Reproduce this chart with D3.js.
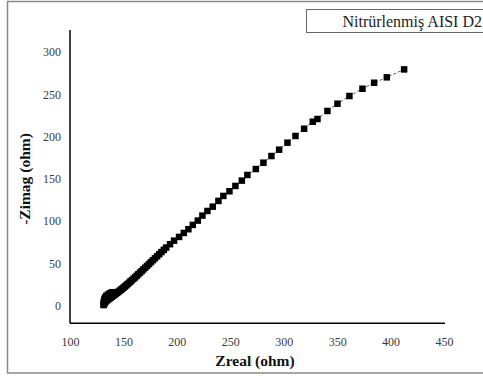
<!DOCTYPE html>
<html>
<head>
<meta charset="utf-8">
<script src="https://cdn.jsdelivr.net/npm/d3@7"></script>
<style>
  html, body { margin: 0; padding: 0; background: #fff; }
  svg { display: block; }
</style>
</head>
<body>
<svg id="chart" width="483" height="378"></svg>
<script>
// Nyquist plot: real vs. negative imaginary impedance (ohm)
const seriesName = "Nitrürlenmiş AISI D2";
const xTicks = [100, 150, 200, 250, 300, 350, 400, 450];
const yTicks = [0, 50, 100, 150, 200, 250, 300];

const zReal = [
  140.0, 138.8, 137.2, 135.5, 134.0, 132.8, 132.0, 131.6, 131.5,
  131.6, 131.8, 132.1, 132.5, 133.0, 133.6, 134.3, 135.1, 136.0, 137.0,
  138.0, 139.1, 140.3, 141.6, 142.8, 144.0, 145.2, 146.4, 147.6, 148.8,
  150.0, 151.3, 152.6, 153.9, 155.2, 156.6, 158.0, 159.4, 160.9, 162.4,
  163.9, 165.5, 167.1, 168.7, 170.4, 172.1, 173.9, 175.7, 177.6, 179.5,
  181.5, 183.5, 185.6, 187.8, 190.0, 193.6, 197.4, 202.1, 206.5, 210.8,
  214.9, 219.6, 223.9, 228.6, 233.6, 238.9, 243.5, 249.2, 254.8, 260.8,
  266.0, 273.9, 281.0, 288.5, 295.7, 303.5, 311.0, 319.1, 327.2, 331.6,
  340.9, 350.3, 361.5, 373.7, 384.6, 396.5, 412.7
];
const zImag = [
  15.8, 15.3, 14.3, 13.0, 11.5, 9.5, 7.0, 4.0, 0.6,
  1.3, 2.0, 2.8, 3.6, 4.4, 5.2, 6.0, 6.8, 7.6, 8.5,
  9.4, 10.4, 11.5, 12.7, 13.9, 15.0, 16.2, 17.4, 18.6, 19.8,
  21.1, 22.5, 23.9, 25.4, 26.9, 28.5, 30.1, 31.7, 33.4, 35.2,
  37.0, 38.9, 40.8, 42.8, 44.8, 46.9, 49.1, 51.3, 53.6, 55.9,
  58.3, 60.8, 63.3, 65.9, 68.6, 72.6, 76.8, 81.2, 85.9, 90.3,
  95.4, 100.5, 106.4, 111.9, 117.0, 123.8, 129.7, 135.2, 141.5, 147.8,
  154.5, 161.5, 169.0, 176.9, 184.4, 192.7, 200.6, 209.2, 217.5, 220.7,
  230.2, 238.8, 247.9, 256.5, 263.6, 270.0, 279.4
];

const points = zReal.map((x, i) => ({ x, y: zImag[i] }));

const svg = d3.select("#chart");
const serif = "'Liberation Serif', 'Times New Roman', serif";

// outer chart frame
svg.append("rect")
  .attr("x", 7.5).attr("y", 1.5)
  .attr("width", 480).attr("height", 371.5)
  .attr("fill", "#fff")
  .attr("stroke", "#8a8a8a").attr("stroke-width", 1.5);

const x = d3.scaleLinear().domain([100, 450]).range([70, 444]);
const y = d3.scaleLinear().domain([-21, 326]).range([323.3, 30]);

// x axis (no tick marks, labels only)
const xAxis = svg.append("g")
  .attr("transform", `translate(0,${y(-21)})`)
  .call(d3.axisBottom(x).tickValues(xTicks).tickSize(0).tickPadding(14).tickFormat(d3.format("d")));
xAxis.select(".domain").attr("stroke", "#000").attr("stroke-width", 1.5)
  .attr("d", `M${x(100)},0H${x(450) + 1}`);
xAxis.selectAll("text").attr("font-family", serif).attr("font-size", 12).attr("fill", "#3a3a3a");

// y axis
const yAxis = svg.append("g")
  .attr("transform", `translate(${x(100)},0)`)
  .call(d3.axisLeft(y).tickValues(yTicks).tickSize(0).tickPadding(9).tickFormat(d3.format("d")));
yAxis.select(".domain").attr("stroke", "#000").attr("stroke-width", 1.5)
  .attr("d", `M0,${y(326)}V${y(-21)}`);
yAxis.selectAll("text").attr("font-family", serif).attr("font-size", 12).attr("fill", "#3a3a3a");

// axis titles
svg.append("text")
  .attr("x", 255).attr("y", 366)
  .attr("text-anchor", "middle")
  .attr("font-family", serif).attr("font-weight", "bold").attr("font-size", 15.5)
  .attr("fill", "#111")
  .text("Zreal (ohm)");

svg.append("text")
  .attr("transform", "translate(30,179) rotate(-90)")
  .attr("text-anchor", "middle")
  .attr("font-family", serif).attr("font-weight", "bold").attr("font-size", 15.5)
  .attr("fill", "#111")
  .text("-Zimag (ohm)");

// connecting line
svg.append("path")
  .datum(points)
  .attr("fill", "none")
  .attr("stroke", "#333")
  .attr("stroke-width", 0.8)
  .attr("stroke-dasharray", "3,2")
  .attr("d", d3.line().x(d => x(d.x)).y(d => y(d.y)));

// square markers
const ms = 6.5;
svg.append("g").selectAll("rect")
  .data(points)
  .join("rect")
  .attr("x", d => x(d.x) - ms / 2)
  .attr("y", d => y(d.y) - ms / 2)
  .attr("width", ms).attr("height", ms)
  .attr("fill", "#000");

// series label box
svg.append("rect")
  .attr("x", 306.5).attr("y", 9.5)
  .attr("width", 185).attr("height", 23)
  .attr("fill", "#fff")
  .attr("stroke", "#666").attr("stroke-width", 1);

svg.append("text")
  .attr("x", 482).attr("y", 26.5)
  .attr("text-anchor", "end")
  .attr("font-family", serif).attr("font-size", 16)
  .attr("fill", "#222")
  .text(seriesName);
</script>
</body>
</html>
